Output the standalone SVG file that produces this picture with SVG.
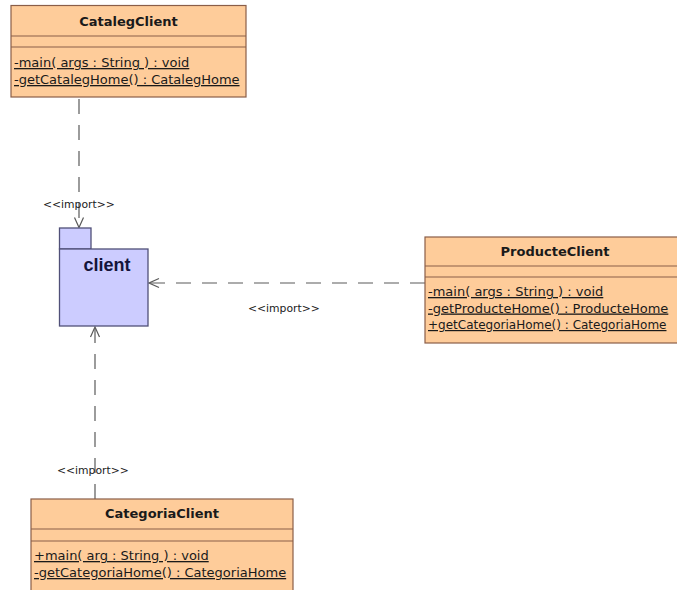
<svg xmlns="http://www.w3.org/2000/svg" width="677" height="590" viewBox="0 0 677 590">
  <style>
    .cls { fill: #FECC9A; stroke: #8A5E48; stroke-width: 1.2; }
    .sep { stroke: #8A5E48; stroke-width: 1.2; }
    .title { font-family: "DejaVu Sans", "Liberation Sans", sans-serif; font-weight: bold; font-size: 13px; fill: #1a1a1a; text-anchor: middle; }
    .member { font-family: "DejaVu Sans", "Liberation Sans", sans-serif; font-size: 13px; fill: #1a1a1a; text-decoration: underline; }
    .tight { font-size: 12px; }
    .pkg { fill: #CCCCFF; stroke: #505078; stroke-width: 1.3; }
    .pkgname { font-family: "Liberation Sans", Arial, sans-serif; font-weight: bold; font-size: 18px; fill: #14143A; text-anchor: middle; }
    .dep { fill: none; stroke: #5a5a5a; stroke-width: 1.2; stroke-dasharray: 15 11; }
    .lbl { font-family: "DejaVu Sans", "Liberation Sans", sans-serif; font-size: 10.8px; fill: #1a1a1a; }
  </style>
  <defs>
    <marker id="open" viewBox="0 0 12 12" refX="11" refY="6" markerWidth="12" markerHeight="12" markerUnits="userSpaceOnUse" orient="auto">
      <path d="M1,1.5 L11,6 L1,10.5" fill="none" stroke="#5a5a5a" stroke-width="1.2"/>
    </marker>
  </defs>
  <rect width="677" height="590" fill="#ffffff"/>

  <!-- import dependencies -->
  <g id="connectors">
    <line class="dep" x1="79" y1="99" x2="79" y2="227.5" marker-end="url(#open)"/>
    <text class="lbl" x="43" y="208">&lt;&lt;import&gt;&gt;</text>
    <line class="dep" x1="425" y1="283" x2="149" y2="283" marker-end="url(#open)"/>
    <text class="lbl" x="248" y="312">&lt;&lt;import&gt;&gt;</text>
    <line class="dep" x1="95" y1="499" x2="95" y2="327" marker-end="url(#open)"/>
    <text class="lbl" x="57" y="474">&lt;&lt;import&gt;&gt;</text>
  </g>

  <!-- package: client -->
  <g id="client">
    <rect class="pkg" x="59.5" y="228" width="31.5" height="21"/>
    <rect class="pkg" x="59.5" y="249" width="88.5" height="77"/>
    <text class="pkgname" x="107" y="271">client</text>
  </g>

  <!-- class: CatalegClient -->
  <g id="CatalegClient">
    <rect class="cls" x="11" y="5.5" width="235" height="91.5"/>
    <line class="sep" x1="11" y1="36" x2="246" y2="36"/>
    <line class="sep" x1="11" y1="47" x2="246" y2="47"/>
    <text class="title" x="128.5" y="26">CatalegClient</text>
    <text class="member" x="14" y="67">-main( args : String ) : void</text>
    <text class="member" x="14" y="84">-getCatalegHome() : CatalegHome</text>
  </g>

  <!-- class: ProducteClient -->
  <g id="ProducteClient">
    <rect class="cls" x="425" y="237" width="260" height="106"/>
    <line class="sep" x1="425" y1="266" x2="685" y2="266"/>
    <line class="sep" x1="425" y1="277" x2="685" y2="277"/>
    <text class="title" x="555" y="256">ProducteClient</text>
    <text class="member" x="428" y="296">-main( args : String ) : void</text>
    <text class="member" x="428" y="312.5">-getProducteHome() : ProducteHome</text>
    <text class="member tight" x="428" y="329">+getCategoriaHome() : CategoriaHome</text>
  </g>

  <!-- class: CategoriaClient -->
  <g id="CategoriaClient">
    <rect class="cls" x="31" y="499" width="262" height="100"/>
    <line class="sep" x1="31" y1="529" x2="293" y2="529"/>
    <line class="sep" x1="31" y1="541" x2="293" y2="541"/>
    <text class="title" x="162" y="518">CategoriaClient</text>
    <text class="member" x="34" y="560">+main( arg : String ) : void</text>
    <text class="member" x="34" y="577">-getCategoriaHome() : CategoriaHome</text>
  </g>
</svg>
